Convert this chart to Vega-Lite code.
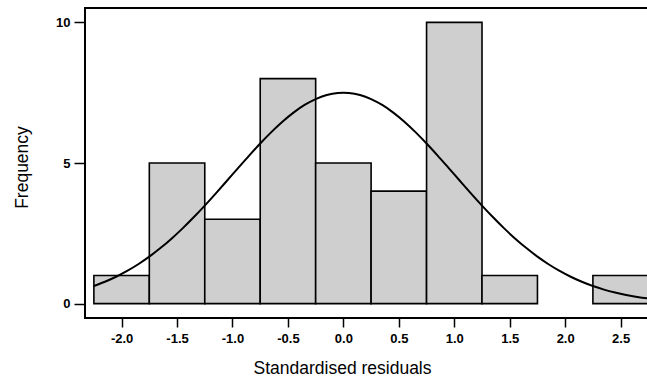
{
  "$schema": "https://vega.github.io/schema/vega-lite/v6.json",
  "autosize": "none",
  "width": 570,
  "height": 310,
  "padding": {"left": 85, "top": 8, "right": 0, "bottom": 60},
  "background": "white",
  "config": {
    "view": {"stroke": "black", "strokeWidth": 2},
    "font": "Liberation Sans"
  },
  "datasets": {
    "bars": [
      {"lo": -2.25, "hi": -1.75, "count": 1},
      {"lo": -1.75, "hi": -1.25, "count": 5},
      {"lo": -1.25, "hi": -0.75, "count": 3},
      {"lo": -0.75, "hi": -0.25, "count": 8},
      {"lo": -0.25, "hi": 0.25, "count": 5},
      {"lo": 0.25, "hi": 0.75, "count": 4},
      {"lo": 0.75, "hi": 1.25, "count": 10},
      {"lo": 1.25, "hi": 1.75, "count": 1},
      {"lo": 2.25, "hi": 2.75, "count": 1}
    ],
    "curve": [
      {"x": -2.25, "y": 0.627}, {"x": -2.15, "y": 0.778}, {"x": -2.05, "y": 0.956},
      {"x": -1.95, "y": 1.163}, {"x": -1.85, "y": 1.401}, {"x": -1.75, "y": 1.671},
      {"x": -1.65, "y": 1.975}, {"x": -1.55, "y": 2.31}, {"x": -1.45, "y": 2.676},
      {"x": -1.35, "y": 3.07}, {"x": -1.25, "y": 3.487}, {"x": -1.15, "y": 3.922},
      {"x": -1.05, "y": 4.369}, {"x": -0.95, "y": 4.819}, {"x": -0.85, "y": 5.264},
      {"x": -0.75, "y": 5.693}, {"x": -0.65, "y": 6.097}, {"x": -0.55, "y": 6.467},
      {"x": -0.45, "y": 6.791}, {"x": -0.35, "y": 7.063}, {"x": -0.25, "y": 7.273},
      {"x": -0.15, "y": 7.418}, {"x": -0.05, "y": 7.491}, {"x": 0.0, "y": 7.5},
      {"x": 0.05, "y": 7.491}, {"x": 0.15, "y": 7.418}, {"x": 0.25, "y": 7.273},
      {"x": 0.35, "y": 7.063}, {"x": 0.45, "y": 6.791}, {"x": 0.55, "y": 6.467},
      {"x": 0.65, "y": 6.097}, {"x": 0.75, "y": 5.693}, {"x": 0.85, "y": 5.264},
      {"x": 0.95, "y": 4.819}, {"x": 1.05, "y": 4.369}, {"x": 1.15, "y": 3.922},
      {"x": 1.25, "y": 3.487}, {"x": 1.35, "y": 3.07}, {"x": 1.45, "y": 2.676},
      {"x": 1.55, "y": 2.31}, {"x": 1.65, "y": 1.975}, {"x": 1.75, "y": 1.671},
      {"x": 1.85, "y": 1.401}, {"x": 1.95, "y": 1.163}, {"x": 2.05, "y": 0.956},
      {"x": 2.15, "y": 0.778}, {"x": 2.25, "y": 0.627}, {"x": 2.35, "y": 0.5},
      {"x": 2.45, "y": 0.396}, {"x": 2.55, "y": 0.31}, {"x": 2.65, "y": 0.24},
      {"x": 2.75, "y": 0.184}, {"x": 2.85, "y": 0.14}
    ]
  },
  "layer": [
    {
      "data": {"name": "bars"},
      "mark": {"type": "rect", "fill": "#cfcfcf", "stroke": "black", "strokeWidth": 1.6, "clip": true},
      "encoding": {
        "x": {
          "field": "lo", "type": "quantitative",
          "scale": {"domain": [-2.33, 2.81], "nice": false, "zero": false},
          "axis": {
            "values": [-2, -1.5, -1, -0.5, 0, 0.5, 1, 1.5, 2, 2.5],
            "labelExpr": "(datum.value < 0 ? '-' : '') + format(abs(datum.value), '.1f')",
            "domain": false,
            "grid": false,
            "tickColor": "black",
            "tickSize": 9,
            "tickWidth": 1.5,
            "labelFontSize": 13,
            "labelFontWeight": "bold",
            "labelColor": "black",
            "labelPadding": 5,
            "title": "Standardised residuals",
            "titleFontSize": 17.5,
            "titleFontWeight": "normal",
            "titleColor": "black",
            "titlePadding": 14,
            "titleX": 257,
            "titleAnchor": "middle",
            "titleAlign": "center"
          }
        },
        "x2": {"field": "hi"},
        "y": {
          "field": "count", "type": "quantitative",
          "scale": {"domain": [-0.51, 10.51], "nice": false, "zero": false},
          "axis": {
            "values": [0, 5, 10],
            "domain": false,
            "grid": false,
            "tickColor": "black",
            "tickSize": 11,
            "tickWidth": 1.5,
            "labelFontSize": 13,
            "labelFontWeight": "bold",
            "labelColor": "black",
            "labelPadding": 4,
            "title": "Frequency",
            "titleFontSize": 17.5,
            "titleFontWeight": "normal",
            "titleColor": "black",
            "titlePadding": 24,
            "titleY": 159,
            "titleAnchor": "middle",
            "titleAlign": "center"
          }
        },
        "y2": {"datum": 0}
      }
    },
    {
      "data": {"name": "curve"},
      "mark": {"type": "line", "color": "black", "strokeWidth": 2, "clip": true, "interpolate": "monotone"},
      "encoding": {
        "x": {"field": "x", "type": "quantitative"},
        "y": {"field": "y", "type": "quantitative"}
      }
    }
  ]
}
